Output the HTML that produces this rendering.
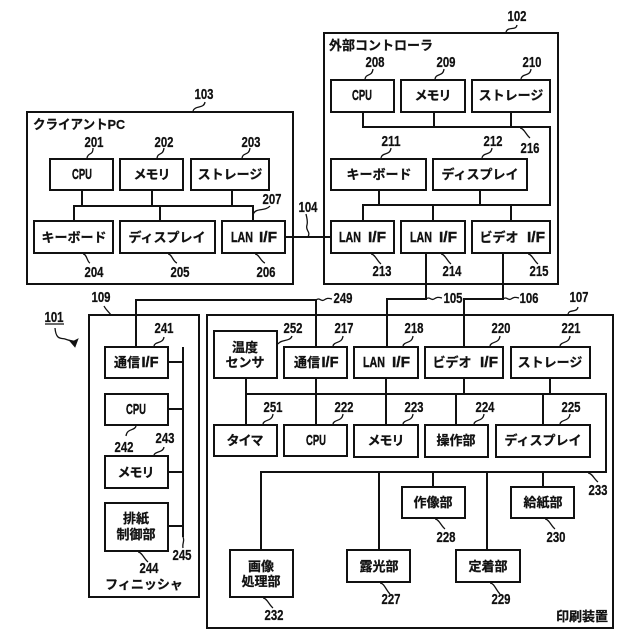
<!DOCTYPE html>
<html lang="ja"><head><meta charset="utf-8"><title>Diagram</title>
<style>
html,body{margin:0;padding:0;background:#fff}
svg{display:block}
text{font-family:"Liberation Sans","Noto Sans CJK JP",sans-serif;font-weight:700;fill:#111;stroke:#111;stroke-width:.25;text-anchor:middle}
.n{font-size:15px}
.t{font-size:13px}
.l{text-anchor:start;font-size:13px}
.a{font-size:15px;stroke-width:.4}
rect,.w{fill:none;stroke:#111;stroke-width:2}
.q{fill:none;stroke:#111;stroke-width:1.3}
</style></head><body>
<svg xmlns="http://www.w3.org/2000/svg" width="640" height="640" viewBox="0 0 640 640">
<rect width="640" height="640" style="fill:#fff;stroke:none"/>
<!-- containers -->
<rect x="27" y="112" width="266" height="172"/>
<rect x="324" y="33" width="234" height="251"/>
<rect x="89" y="315" width="110" height="282"/>
<rect x="207" y="315" width="406" height="313"/>
<!-- client -->
<rect x="50" y="159" width="63" height="31"/><rect x="120" y="159" width="63" height="31"/><rect x="191" y="159" width="78" height="31"/>
<rect x="34" y="221" width="79" height="32"/><rect x="120" y="221" width="95" height="32"/><rect x="222" y="221" width="63" height="32"/>
<!-- controller -->
<rect x="331" y="80" width="63" height="32"/><rect x="401" y="80" width="64" height="32"/><rect x="472" y="80" width="78" height="32"/>
<rect x="331" y="159" width="95" height="31"/><rect x="433" y="159" width="94" height="31"/>
<rect x="331" y="221" width="63" height="32"/><rect x="401" y="221" width="64" height="32"/><rect x="472" y="221" width="78" height="32"/>
<!-- finisher -->
<rect x="105" y="347" width="63" height="31"/><rect x="105" y="394" width="63" height="31"/><rect x="105" y="456" width="63" height="32"/><rect x="105" y="503" width="63" height="48"/>
<!-- printer -->
<rect x="214" y="331" width="63" height="47"/><rect x="284" y="347" width="63" height="31"/><rect x="354" y="347" width="64" height="31"/><rect x="425" y="347" width="78" height="31"/><rect x="511" y="347" width="79" height="31"/>
<rect x="214" y="425" width="63" height="31"/><rect x="284" y="425" width="63" height="31"/><rect x="354" y="425" width="64" height="32"/><rect x="425" y="425" width="63" height="32"/><rect x="496" y="425" width="94" height="32"/>
<rect x="402" y="487" width="63" height="31"/><rect x="511" y="487" width="63" height="31"/>
<rect x="230" y="550" width="63" height="47"/><rect x="347" y="550" width="63" height="32"/><rect x="456" y="550" width="64" height="32"/>
<!-- connectors -->
<path class="w" d="M74 221V206H253V221M82 190V206M152 190V206M232 190V206M160 206V221M285 237H331"/>
<path class="w" d="M363 112V127H550V205H363V221M434 112V127M511 112V127M379 190V205M480 190V205M433 205V221M511 205V221"/>
<path class="w" d="M426 253V299H387V347M503 253V299H464V347"/>
<path class="w" d="M136 347V300H316V347"/>
<path class="w" d="M183 347V537M168 362H183M168 409H183M168 472H183M168 526H183"/>
<path class="w" d="M246 378V425M316 378V425M386 378V425M464 378V394M550 378V394M456 394V425M543 394V425M246 394H606V472H261V550M379 472V550M433 472V487M487 472V550M543 472V487"/>
<!-- leaders -->
<path class="q" d="M193 111c2-6 11-2 12-9M87 158c1-6 6-2 6-10M157 158c1-6 6-2 7-10M242 158c1-6 7-2 8-10M253 215c2-8 12-3 17-9M308 237c3-6-3-6-1-12c1-4 0-6-1-11M83 254c4 0 4 8 7 9M168 254c4 0 5 8 9 9M255 254c4 0 6 8 10 9"/>
<path class="q" d="M506 32c2-6 10-1 11-7M365 79c1-6 7-2 8-10M435 79c1-6 8-2 9-10M521 79c1-6 9-2 10-10M520 128c4 0 6 7 10 10M381 158c1-6 9-2 10-10M482 158c1-6 9-2 10-10M371 254c4 0 6 7 10 10M441 254c4 0 6 7 10 10M528 254c4 0 6 7 10 10"/>
<path class="q" d="M316 300c4-3 5 2 8 0s4-2 8-1M426 299c4-3 5 2 8 0s4-2 8-1M503 299c4-3 5 2 8 0s4-2 8-1M568 314c1-5 9-1 10-7M104 306c2 4 5 6 7 9M55 328c1 12 6 10 10 11l6 2M154 346c1-5 9-2 10-9M136 426c-1 5-9 2-10 10M154 455c1-4 9-2 10-8M183 537c2 4-1 6 0 11M138 552c4 0 6 7 10 10M278 344c3-5 12-2 14-8M333 346c1-5 9-2 10-10M403 346c1-5 9-2 10-10M490 346c1-5 9-2 10-10M560 346c1-5 9-2 10-10M263 424c1-5 9-2 10-10M333 424c1-5 9-2 10-10M403 424c1-5 9-2 10-10M474 424c1-5 9-2 10-10M560 424c1-5 9-2 10-10M588 473c4 0 6 6 10 9M435 519c4 0 6 7 10 10M545 519c4 0 6 7 10 10M263 598c4 0 6 7 10 10M380 583c4 0 6 7 10 11M490 583c4 0 6 7 10 11"/>
<path style="fill:#111;stroke:#111;stroke-width:.8" d="M69 340L75 347L78 339L74 341Z"/>
<path style="fill:none;stroke:#111;stroke-width:1.2" d="M45 324H64"/>
<!-- numbers -->
<g class="n">
<text x="204" y="99" textLength="19" lengthAdjust="spacingAndGlyphs">103</text>
<text x="94" y="147" textLength="19" lengthAdjust="spacingAndGlyphs">201</text>
<text x="164" y="147" textLength="19" lengthAdjust="spacingAndGlyphs">202</text>
<text x="251" y="147" textLength="19" lengthAdjust="spacingAndGlyphs">203</text>
<text x="272" y="204" textLength="19" lengthAdjust="spacingAndGlyphs">207</text>
<text x="308" y="212" textLength="19" lengthAdjust="spacingAndGlyphs">104</text>
<text x="94" y="277" textLength="19" lengthAdjust="spacingAndGlyphs">204</text>
<text x="180" y="277" textLength="19" lengthAdjust="spacingAndGlyphs">205</text>
<text x="266" y="277" textLength="19" lengthAdjust="spacingAndGlyphs">206</text>
<text x="517" y="21" textLength="19" lengthAdjust="spacingAndGlyphs">102</text>
<text x="375" y="67" textLength="19" lengthAdjust="spacingAndGlyphs">208</text>
<text x="446" y="67" textLength="19" lengthAdjust="spacingAndGlyphs">209</text>
<text x="532" y="67" textLength="19" lengthAdjust="spacingAndGlyphs">210</text>
<text x="530" y="153" textLength="19" lengthAdjust="spacingAndGlyphs">216</text>
<text x="391" y="146" textLength="19" lengthAdjust="spacingAndGlyphs">211</text>
<text x="493" y="146" textLength="19" lengthAdjust="spacingAndGlyphs">212</text>
<text x="382" y="276" textLength="19" lengthAdjust="spacingAndGlyphs">213</text>
<text x="452" y="276" textLength="19" lengthAdjust="spacingAndGlyphs">214</text>
<text x="539" y="276" textLength="19" lengthAdjust="spacingAndGlyphs">215</text>
<text x="343" y="303" textLength="19" lengthAdjust="spacingAndGlyphs">249</text>
<text x="453" y="303" textLength="19" lengthAdjust="spacingAndGlyphs">105</text>
<text x="529" y="303" textLength="19" lengthAdjust="spacingAndGlyphs">106</text>
<text x="579" y="302" textLength="19" lengthAdjust="spacingAndGlyphs">107</text>
<text x="101" y="302" textLength="19" lengthAdjust="spacingAndGlyphs">109</text>
<text x="54" y="322" textLength="19" lengthAdjust="spacingAndGlyphs">101</text>
<text x="164" y="333" textLength="19" lengthAdjust="spacingAndGlyphs">241</text>
<text x="124" y="452" textLength="19" lengthAdjust="spacingAndGlyphs">242</text>
<text x="165" y="443" textLength="19" lengthAdjust="spacingAndGlyphs">243</text>
<text x="182" y="560" textLength="19" lengthAdjust="spacingAndGlyphs">245</text>
<text x="149" y="573" textLength="19" lengthAdjust="spacingAndGlyphs">244</text>
<text x="293" y="333" textLength="19" lengthAdjust="spacingAndGlyphs">252</text>
<text x="273" y="412" textLength="19" lengthAdjust="spacingAndGlyphs">251</text>
<text x="274" y="620" textLength="19" lengthAdjust="spacingAndGlyphs">232</text>
<text x="344" y="333" textLength="19" lengthAdjust="spacingAndGlyphs">217</text>
<text x="414" y="333" textLength="19" lengthAdjust="spacingAndGlyphs">218</text>
<text x="501" y="333" textLength="19" lengthAdjust="spacingAndGlyphs">220</text>
<text x="571" y="333" textLength="19" lengthAdjust="spacingAndGlyphs">221</text>
<text x="344" y="412" textLength="19" lengthAdjust="spacingAndGlyphs">222</text>
<text x="414" y="412" textLength="19" lengthAdjust="spacingAndGlyphs">223</text>
<text x="485" y="412" textLength="19" lengthAdjust="spacingAndGlyphs">224</text>
<text x="571" y="412" textLength="19" lengthAdjust="spacingAndGlyphs">225</text>
<text x="598" y="495" textLength="19" lengthAdjust="spacingAndGlyphs">233</text>
<text x="446" y="542" textLength="19" lengthAdjust="spacingAndGlyphs">228</text>
<text x="556" y="542" textLength="19" lengthAdjust="spacingAndGlyphs">230</text>
<text x="391" y="604" textLength="19" lengthAdjust="spacingAndGlyphs">227</text>
<text x="501" y="604" textLength="19" lengthAdjust="spacingAndGlyphs">229</text>
</g>
<!-- labels -->
<g class="t">
<text class="l" x="33" y="129" textLength="92" lengthAdjust="spacingAndGlyphs">クライアントPC</text>
<text class="a" x="82" y="179" textLength="20" lengthAdjust="spacingAndGlyphs">CPU</text>
<text x="152" y="179" textLength="37" lengthAdjust="spacing">メモリ</text>
<text x="230" y="179">ストレージ</text>
<text x="74" y="242">キーボード</text>
<text x="167" y="242">ディスプレイ</text>
<text class="a" x="242" y="242" textLength="22" lengthAdjust="spacingAndGlyphs">LAN</text><text class="a" x="268" y="242" textLength="18" lengthAdjust="spacingAndGlyphs">I/F</text>
<text class="l" x="329" y="50">外部コントローラ</text>
<text class="a" x="362" y="100" textLength="20" lengthAdjust="spacingAndGlyphs">CPU</text>
<text x="433" y="100" textLength="37" lengthAdjust="spacing">メモリ</text>
<text x="511" y="100">ストレージ</text>
<text x="379" y="179">キーボード</text>
<text x="480" y="179">ディスプレイ</text>
<text class="a" x="350" y="242" textLength="22" lengthAdjust="spacingAndGlyphs">LAN</text><text class="a" x="377" y="242" textLength="18" lengthAdjust="spacingAndGlyphs">I/F</text>
<text class="a" x="421" y="242" textLength="22" lengthAdjust="spacingAndGlyphs">LAN</text><text class="a" x="448" y="242" textLength="18" lengthAdjust="spacingAndGlyphs">I/F</text>
<text x="499" y="242">ビデオ</text>
<text class="a" x="536" y="242" textLength="18" lengthAdjust="spacingAndGlyphs">I/F</text>
<text x="127" y="367">通信</text>
<text class="a" x="150" y="367" textLength="17" lengthAdjust="spacingAndGlyphs">I/F</text>
<text class="a" x="136" y="414" textLength="20" lengthAdjust="spacingAndGlyphs">CPU</text>
<text x="136" y="477" textLength="37" lengthAdjust="spacing">メモリ</text>
<text x="136" y="523">排紙</text>
<text x="136" y="539">制御部</text>
<text x="144" y="589">フィニッシャ</text>
<text x="245" y="352">温度</text>
<text x="245" y="367">センサ</text>
<text x="307" y="367">通信</text>
<text class="a" x="330" y="367" textLength="17" lengthAdjust="spacingAndGlyphs">I/F</text>
<text class="a" x="374" y="367" textLength="22" lengthAdjust="spacingAndGlyphs">LAN</text><text class="a" x="401" y="367" textLength="18" lengthAdjust="spacingAndGlyphs">I/F</text>
<text x="452" y="367">ビデオ</text>
<text class="a" x="489" y="367" textLength="18" lengthAdjust="spacingAndGlyphs">I/F</text>
<text x="550" y="367">ストレージ</text>
<text x="245" y="445" textLength="37" lengthAdjust="spacing">タイマ</text>
<text class="a" x="316" y="445" textLength="20" lengthAdjust="spacingAndGlyphs">CPU</text>
<text x="386" y="445" textLength="37" lengthAdjust="spacing">メモリ</text>
<text x="456" y="445">操作部</text>
<text x="543" y="445">ディスプレイ</text>
<text x="433" y="507">作像部</text>
<text x="543" y="507">給紙部</text>
<text x="261" y="571">画像</text>
<text x="261" y="586">処理部</text>
<text x="379" y="571">露光部</text>
<text x="488" y="571">定着部</text>
<text x="582" y="621">印刷装置</text>
</g>
</svg>
</body></html>
